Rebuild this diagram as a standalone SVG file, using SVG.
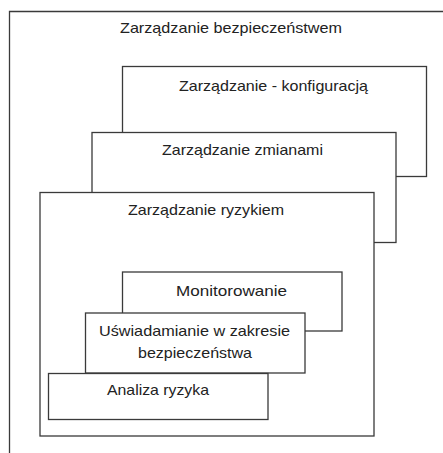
<svg xmlns="http://www.w3.org/2000/svg" width="443" height="453" viewBox="0 0 443 453">
<style>
rect{fill:#fff;stroke:#3a3a3a;stroke-width:1.3}
text{font-family:"Liberation Sans",Arial,sans-serif;font-size:14.5px;fill:#222;text-anchor:middle}
</style>
<rect x="0" y="0" width="443" height="453" style="stroke:none"/>
<g id="bezpieczenstwo">
<path d="M9.5 460V11.5H450" fill="none" stroke="#3a3a3a" stroke-width="1.3"/>
<text x="231" y="33" textLength="222" lengthAdjust="spacingAndGlyphs">Zarządzanie bezpieczeństwem</text>
</g>
<g id="konfiguracja">
<rect x="122.5" y="66.5" width="304" height="110"/>
<text x="273.5" y="91" textLength="189" lengthAdjust="spacingAndGlyphs">Zarządzanie - konfiguracją</text>
</g>
<g id="zmiany">
<rect x="92" y="132.5" width="304" height="110"/>
<text x="242.5" y="154.5" textLength="161" lengthAdjust="spacingAndGlyphs">Zarządzanie zmianami</text>
</g>
<g id="ryzyko">
<rect x="40" y="192.5" width="334" height="243.5"/>
<text x="206" y="214.5" textLength="156" lengthAdjust="spacingAndGlyphs">Zarządzanie ryzykiem</text>
</g>
<g id="monitorowanie">
<rect x="122.5" y="272" width="219.5" height="59"/>
<text x="231.5" y="296" textLength="111" lengthAdjust="spacingAndGlyphs">Monitorowanie</text>
</g>
<g id="uswiadamianie">
<rect x="85.5" y="313" width="219.5" height="60"/>
<text x="194.5" y="336" textLength="191" lengthAdjust="spacingAndGlyphs">Uświadamianie w zakresie</text>
<text x="195" y="358" textLength="114" lengthAdjust="spacingAndGlyphs">bezpieczeństwa</text>
</g>
<g id="analiza">
<rect x="48.5" y="373.5" width="219.5" height="46"/>
<text x="158" y="395" textLength="102" lengthAdjust="spacingAndGlyphs">Analiza ryzyka</text>
</g>
<g id="connectors"/>
</svg>
